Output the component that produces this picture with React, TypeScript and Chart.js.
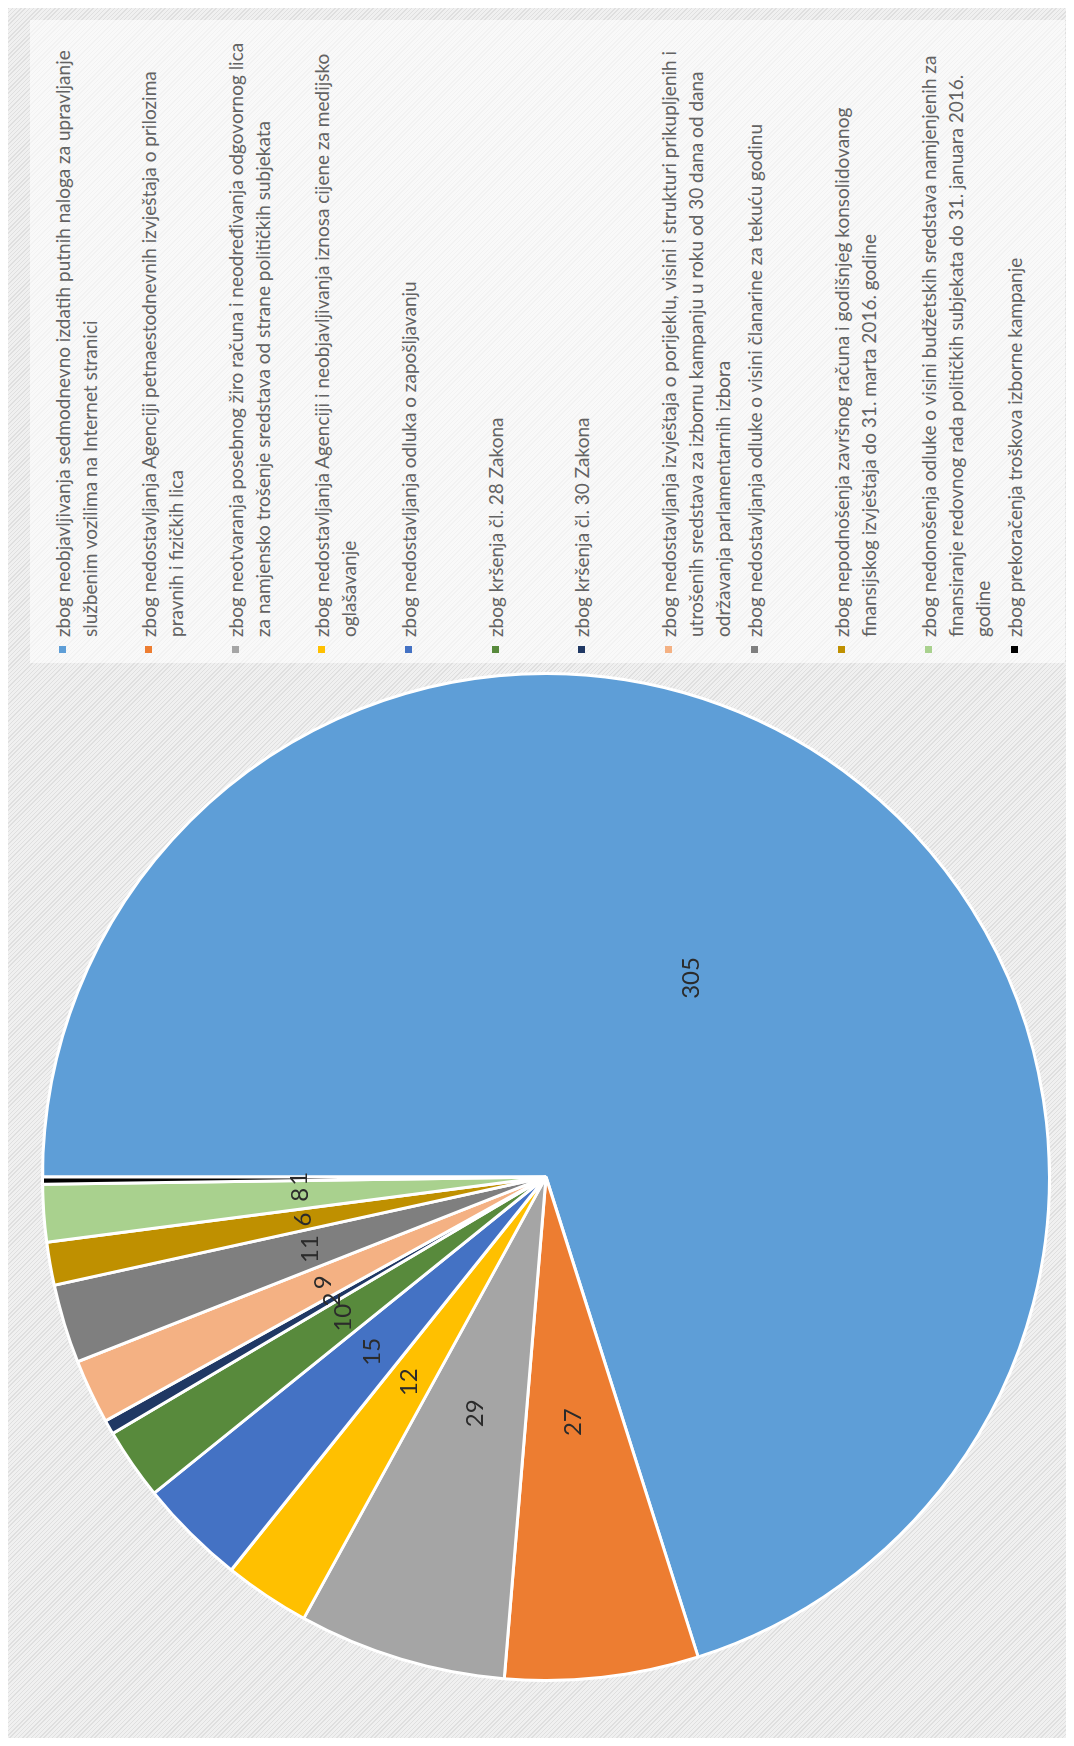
import React, { useEffect, useRef } from "react";
import { Chart, registerables } from "chart.js";

Chart.register(...registerables);

// Legend text (line breaks as in the reference legend)
const categories: string[] = [
  "zbog neobjavljivanja sedmodnevno izdatih putnih naloga za upravljanje\nslužbenim vozilima na Internet stranici",
  "zbog nedostavljanja Agenciji petnaestodnevnih izvještaja o prilozima\npravnih i fizičkih lica",
  "zbog neotvaranja posebnog žiro računa i neodređivanja odgovornog lica\nza namjensko trošenje sredstava od strane političkih subjekata",
  "zbog nedostavljanja Agenciji i neobjavljivanja iznosa cijene za medijsko\noglašavanje",
  "zbog nedostavljanja odluka o zapošljavanju",
  "zbog kršenja čl. 28 Zakona",
  "zbog kršenja čl. 30 Zakona",
  "zbog nedostavljanja izvještaja o porijeklu, visini i strukturi prikupljenih i\nutrošenih sredstava za izbornu kampanju u roku od 30 dana od dana\nodržavanja parlamentarnih izbora",
  "zbog nedostavljanja odluke o visini članarine za tekuću godinu",
  "zbog nepodnošenja završnog računa i godišnjeg konsolidovanog\nfinansijskog izvještaja do 31. marta 2016. godine",
  "zbog nedonošenja odluke o visini budžetskih sredstava namjenjenih za\nfinansiranje redovnog rada političkih subjekata do 31. januara 2016.\ngodine",
  "zbog prekoračenja troškova izborne kampanje",
];

const values: number[] = [305, 27, 29, 12, 15, 10, 2, 9, 11, 6, 8, 1];

const colors: string[] = [
  "#5E9ED7",
  "#ED7D31",
  "#A5A5A5",
  "#FFC000",
  "#4472C4",
  "#588A3C",
  "#203864",
  "#F4B183",
  "#7F7F7F",
  "#BF9000",
  "#A9D18E",
  "#000000",
];

const sliceLabelPlugin = {
  id: "sliceLabels",
  afterDatasetsDraw(chart: any) {
    const ctx = chart.ctx;
    const meta = chart.getDatasetMeta(0);
    const data = chart.data.datasets[0].data as number[];
    ctx.save();
    ctx.font = "24px Lato";
    ctx.fillStyle = "#2b2b2b";
    ctx.textAlign = "center";
    ctx.textBaseline = "middle";
    meta.data.forEach((arc: any, i: number) => {
      const p = arc.getProps(["x", "y", "startAngle", "endAngle", "outerRadius"], true);
      const mid = (p.startAngle + p.endAngle) / 2;
      const r = p.outerRadius * 0.49;
      ctx.fillText(String(data[i]), p.x + Math.cos(mid) * r, p.y + Math.sin(mid) * r);
    });
    ctx.restore();
  },
};

const hatch =
  "repeating-linear-gradient(135deg, #dfdfdf 0px, #dfdfdf 1px, #f0f0f0 1px, #f0f0f0 3px)";

export default function App() {
  const canvasRef = useRef<HTMLCanvasElement | null>(null);

  useEffect(() => {
    if (!canvasRef.current) return;
    const chart = new Chart(canvasRef.current, {
      type: "pie",
      data: {
        labels: categories,
        datasets: [
          {
            data: values,
            backgroundColor: colors,
            borderColor: "#ffffff",
            borderWidth: 3,
          },
        ],
      },
      options: {
        responsive: false,
        animation: false,
        layout: { padding: 0 },
        plugins: {
          legend: { display: false },
          tooltip: { enabled: false },
        },
      },
      plugins: [sliceLabelPlugin],
    });
    return () => chart.destroy();
  }, []);

  const firstCenter = 62;
  const step = 86.6;

  return (
    <div
      style={{
        position: "relative",
        width: 1066,
        height: 1738,
        marginBottom: -8,
        overflow: "hidden",
        background: hatch,
      }}
    >
      <div
        style={{
          position: "absolute",
          left: -8,
          top: -8,
          width: 1746,
          height: 1074,
          transformOrigin: "0 0",
          transform: "translate(0px, 1746px) rotate(-90deg)",
        }}
      >
        <canvas
          ref={canvasRef}
          width={1010}
          height={1010}
          style={{ position: "absolute", left: 64, top: 41, width: 1010, height: 1010 }}
        />
        <div
          style={{
            position: "absolute",
            left: 1083,
            top: 30,
            width: 643,
            height: 1035,
            background: "rgba(255,255,255,0.6)",
          }}
        >
          {categories.map((c, i) => (
            <div
              key={i}
              style={{
                position: "absolute",
                left: 26,
                top: firstCenter + step * i - 13.5 - 30,
                width: 615,
                fontFamily: "Lato, 'Noto Sans', sans-serif",
                fontSize: 19,
                lineHeight: "27px",
                color: "#636363",
                whiteSpace: "pre",
              }}
            >
              <span
                style={{
                  position: "absolute",
                  left: -16,
                  top: 10,
                  width: 7,
                  height: 7,
                  background: colors[i],
                }}
              />
              {c}
            </div>
          ))}
        </div>
      </div>
    </div>
  );
}
